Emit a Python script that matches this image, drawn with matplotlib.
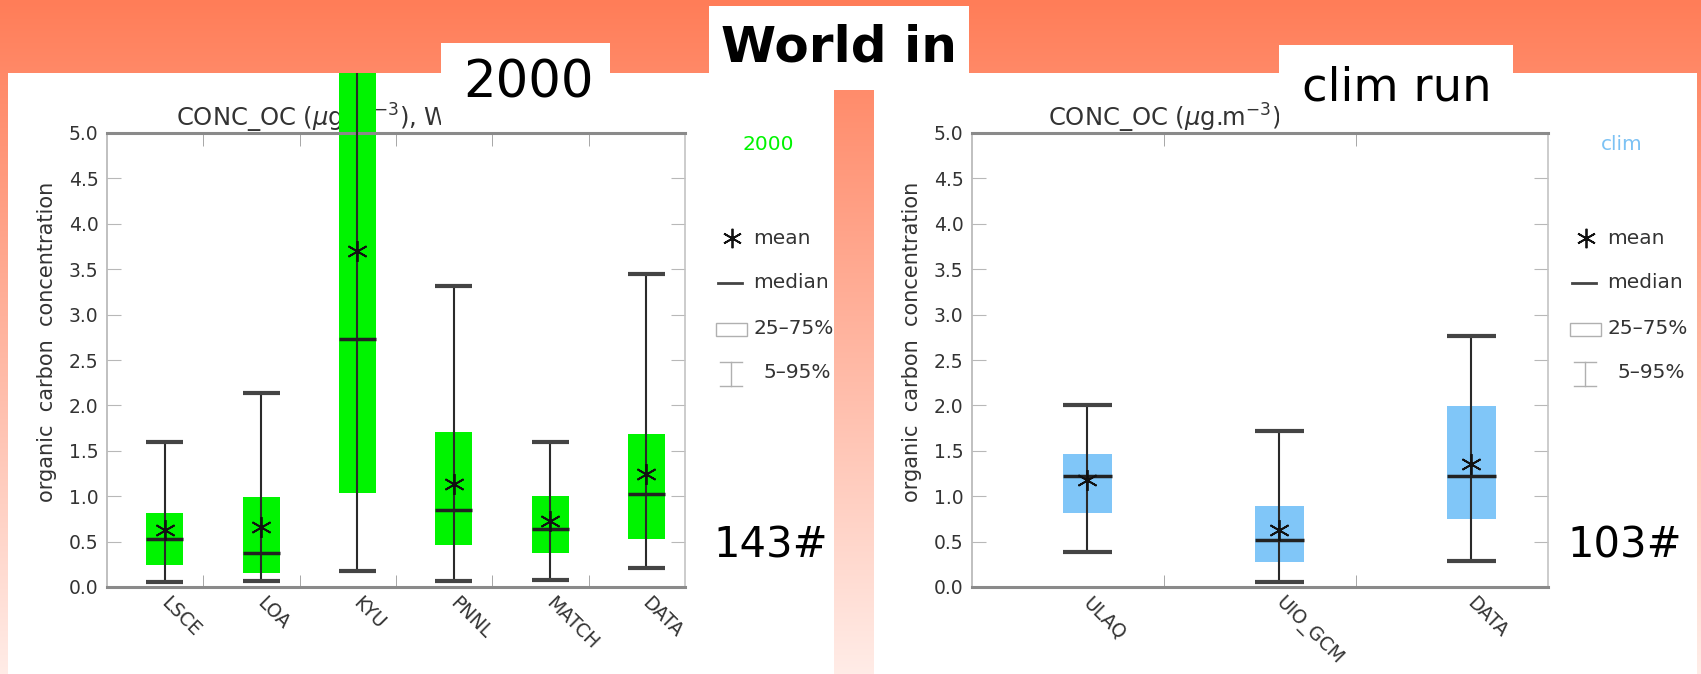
import numpy as np
import matplotlib.pyplot as plt
from matplotlib.patches import Rectangle
from matplotlib.transforms import ScaledTranslation

W, H = 1701, 674

# ---- data (organic carbon, ug/m3) ----
models_2000 = ["LSCE", "LOA", "KYU", "PNNL", "MATCH", "DATA"]
p05_2000 = [0.06, 0.07, 0.18, 0.07, 0.08, 0.21]
q25_2000 = [0.24, 0.15, 1.03, 0.46, 0.37, 0.53]
median_2000 = [0.53, 0.37, 2.73, 0.85, 0.64, 1.02]
q75_2000 = [0.82, 0.99, 5.9, 1.71, 1.00, 1.69]   # KYU runs off the top
p95_2000 = [1.60, 2.14, 6.4, 3.32, 1.60, 3.45]
mean_2000 = [0.63, 0.66, 3.70, 1.13, 0.73, 1.25]

models_clim = ["ULAQ", "UIO_GCM", "DATA"]
p05_clim = [0.39, 0.06, 0.29]
q25_clim = [0.81, 0.27, 0.75]
median_clim = [1.22, 0.52, 1.22]
q75_clim = [1.46, 0.89, 1.99]
p95_clim = [2.00, 1.72, 2.76]
mean_clim = [1.18, 0.63, 1.35]

y_ticks = [0.0, 0.5, 1.0, 1.5, 2.0, 2.5, 3.0, 3.5, 4.0, 4.5, 5.0]
station_counts = ["143#", "103#"]
run_tags = ["2000", "clim"]
run_titles = ["2000", "clim run"]

GREEN = "#00f400"
BLUE = "#80c6f8"
INK = "#333333"
STAR = (6, 2, 0)


def px_rect(x0, y0, x1, y1):
    # pixel box (origin top-left) -> figure fraction
    return [x0 / W, 1 - y1 / H, (x1 - x0) / W, (y1 - y0) / H]


fig = plt.figure(figsize=(W / 100, H / 100), dpi=100)

# slide background: orange gradient + white panels
bg = fig.add_axes([0, 0, 1, 1], zorder=-5)
top_c = np.array([255, 125, 88]) / 255
bot_c = np.array([255, 236, 231]) / 255
t = np.linspace(0, 1, H)[:, None, None]
bg.imshow(top_c + (bot_c - top_c) * t, extent=[0, W, H, 0], aspect="auto")
bg.set_xlim(0, W)
bg.set_ylim(H, 0)
bg.axis("off")
panel_l = Rectangle((8, 73), 826, 601, facecolor="white", edgecolor="none")
panel_r = Rectangle((874, 73), 823, 601, facecolor="white", edgecolor="none")
bg.add_patch(panel_l)
bg.add_patch(panel_r)


def box_panel(rect, models, p05, q25, med, q75, p95, mean, color, width, clip):
    ax = fig.add_axes(rect, zorder=1)
    pos = np.arange(1, len(models) + 1)
    lo, hi = pos - width / 2, pos + width / 2

    bars = ax.bar(pos, np.subtract(q75, q25), bottom=q25, width=width,
                  color=color, zorder=2)
    for b in bars:
        b.set_clip_path(clip)
    wl = ax.vlines(pos, p05, p95, color="#2a2a2a", lw=1.5, zorder=3)
    wl.set_clip_path(clip)
    ax.hlines(p05, lo, hi, color="#444444", lw=3, zorder=3)
    cap = ax.hlines(p95, lo, hi, color="#444444", lw=3, zorder=3)
    cap.set_clip_path(clip)
    ax.hlines(med, lo, hi, color="#222222", lw=2.5, zorder=4)
    ax.plot(pos, mean, ls="none", marker=STAR, ms=15, mew=1.3,
            color="#111111", zorder=5)

    ax.set_xlim(0.4, len(models) + 0.4)
    ax.set_ylim(0, 5)
    ax.set_yticks(y_ticks, labels=[f"{v:.1f}" for v in y_ticks])
    ax.tick_params(axis="y", direction="in", length=10, left=True, right=True,
                   color="#b8b8b8", labelsize=13.5, labelcolor=INK, pad=6)
    ax.set_xticks(pos, labels=models, rotation=-45, ha="left", va="top")
    ax.tick_params(axis="x", which="major", length=0, pad=4.5,
                   labelsize=13.5, labelcolor=INK)
    ax.set_xticks(pos[:-1] + 0.4, minor=True)
    ax.tick_params(axis="x", which="minor", direction="in", length=9,
                   top=True, bottom=True, color="#999999")
    shift = ScaledTranslation(-8 / 100, 0, fig.dpi_scale_trans)
    for lab in ax.get_xticklabels():
        lab.set_transform(lab.get_transform() + shift)

    for side, c, lw in [("left", "#b5b5b5", 1.2), ("right", "#c4c4c4", 1.2),
                        ("top", "#8a8a8a", 2.2), ("bottom", "#8a8a8a", 2.2)]:
        ax.spines[side].set_color(c)
        ax.spines[side].set_linewidth(lw)

    ax.text(-0.104, 0.54, "organic  carbon  concentration", rotation=90,
            transform=ax.transAxes, ha="center", va="center",
            fontsize=15, color=INK)
    return ax


ax_l = box_panel(px_rect(107, 133, 685, 587), models_2000, p05_2000, q25_2000,
                 median_2000, q75_2000, p95_2000, mean_2000, GREEN, 0.385,
                 panel_l)
ax_r = box_panel(px_rect(972, 133, 1548, 587), models_clim, p05_clim, q25_clim,
                 median_clim, q75_clim, p95_clim, mean_clim, BLUE, 0.255,
                 panel_r)

# titles (partly hidden behind the white labels)
for ax, tag, x_off in [(ax_l, "2000", 69), (ax_r, "clim", 76)]:
    ax.text(x_off / 578, 1.033, r"CONC_OC ($\mu$g.m$^{-3}$), World (" + tag + ")",
            transform=ax.transAxes, ha="left", va="center", fontsize=17.5,
            color=INK, zorder=1)

# ---- foreground: slide labels and legends ----
fr = fig.add_axes([0, 0, 1, 1], zorder=10)
fr.set_xlim(0, W)
fr.set_ylim(H, 0)
fr.axis("off")

fr.add_patch(Rectangle((709, 6), 260, 84, facecolor="white", edgecolor="none"))
fr.text(839, 47, "World in", fontsize=36, fontweight="bold", ha="center",
        va="center", color="black")
fr.add_patch(Rectangle((441, 43), 169, 86, facecolor="white", edgecolor="none"))
fr.text(528, 84, run_titles[0], fontsize=37, ha="center", va="center",
        color="black")
fr.add_patch(Rectangle((1279, 45), 234, 84, facecolor="white", edgecolor="none"))
fr.text(1397, 88, run_titles[1], fontsize=33.5, ha="center", va="center",
        color="black")


def legend(x0, tag, tag_color, count, clip):
    txt = dict(fontsize=14.5, color=INK, va="center", ha="left")
    fr.text(x0 + 36, 145, tag, fontsize=14.5, color=tag_color, ha="center",
            va="center")
    fr.plot([x0], [238], marker=STAR, ms=14, mew=1.3, color="#111111")
    fr.text(x0 + 21, 238, "mean", **txt).set_clip_path(clip)
    fr.plot([x0 - 14, x0 + 10], [283, 283], color="#444444", lw=2)
    fr.text(x0 + 21, 283, "median", **txt).set_clip_path(clip)
    fr.add_patch(Rectangle((x0 - 16, 323), 31, 13, facecolor="none",
                           edgecolor="#b0b0b0", lw=1))
    fr.text(x0 + 21, 329, "25\u201375%", **txt).set_clip_path(clip)
    fr.plot([x0 - 1, x0 - 1], [362, 386], color="#b0b0b0", lw=1)
    fr.plot([x0 - 12, x0 + 10], [362, 362], color="#b0b0b0", lw=1)
    fr.plot([x0 - 12, x0 + 10], [386, 386], color="#b0b0b0", lw=1)
    fr.text(x0 + 31, 373, "5\u201395%", **txt).set_clip_path(clip)
    fr.text(x0 + 39, 545, count, fontsize=30, ha="center", va="center",
            color="black")


legend(732, run_tags[0], GREEN, station_counts[0], panel_l)
legend(1586, run_tags[1], "#7cc2f4", station_counts[1], panel_r)

fig.savefig("out.png", dpi=100)
